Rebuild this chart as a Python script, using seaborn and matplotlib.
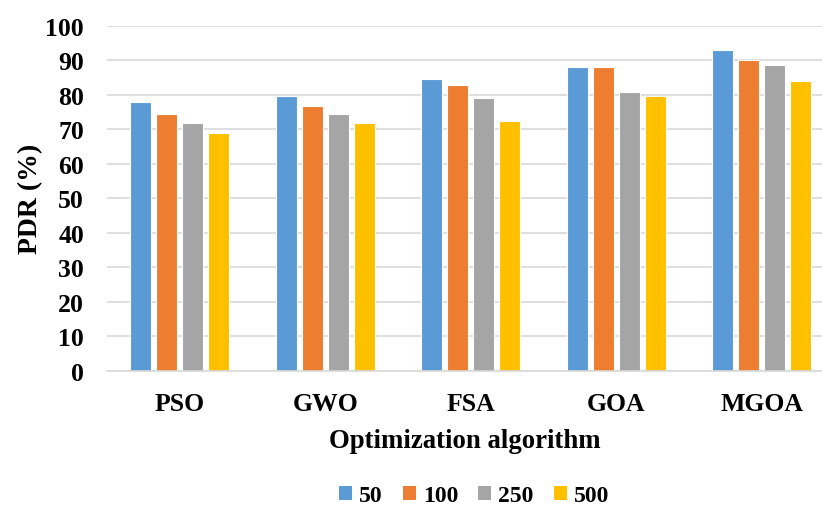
import matplotlib
matplotlib.use("Agg")
import matplotlib.pyplot as plt
import seaborn as sns
import pandas as pd
from matplotlib.patches import Patch

algorithms = ["PSO", "GWO", "FSA", "GOA", "MGOA"]
series_names = ["50", "100", "250", "500"]
vals_50 = [78.0, 79.7, 84.7, 88.0, 93.0]
vals_100 = [74.6, 76.9, 83.0, 88.0, 90.2]
vals_250 = [71.8, 74.6, 79.0, 80.8, 88.6]
vals_500 = [69.0, 71.8, 72.4, 79.7, 84.1]
colors = ["#5B9BD5", "#ED7D31", "#A5A5A5", "#FFC000"]

rows = []
for name, vals in zip(series_names, [vals_50, vals_100, vals_250, vals_500]):
    for a, v in zip(algorithms, vals):
        rows.append({"alg": a, "series": name, "PDR": v})
df = pd.DataFrame(rows)

sns.set_theme(style="white")
plt.rcParams["font.family"] = ["Liberation Serif", "DejaVu Serif"]
plt.rcParams["font.weight"] = "bold"
plt.rcParams["text.color"] = "black"

fig = plt.figure(figsize=(8.22, 5.06), dpi=100)
ax = fig.add_axes([107 / 822, 1 - 371.7 / 506, (822 - 107) / 822, (371.7 - 27) / 506])

sns.barplot(data=df, x="alg", y="PDR", hue="series", order=algorithms,
            hue_order=series_names, palette=colors, saturation=1, width=0.715, gap=0.2,
            edgecolor="#FFFFFF", linewidth=0.8, ax=ax, legend=False)

ax.set_ylim(0, 100)
ax.set_xlim(-0.5, -0.5 + 715 / 145.5)
ax.set_yticks(range(0, 101, 10))
ax.yaxis.grid(True, color="#D9D9D9", linewidth=1.2)
ax.set_axisbelow(True)
for s in ["top", "right", "left"]:
    ax.spines[s].set_visible(False)
ax.spines["bottom"].set_color("#D9D9D9")
ax.spines["bottom"].set_linewidth(1.2)
ax.tick_params(axis="both", length=0, labelsize=18.5, colors="black")
ax.tick_params(axis="x", pad=15)
ax.tick_params(axis="y", pad=16.5)
for lab in ax.get_xticklabels() + ax.get_yticklabels():
    lab.set_fontweight("bold")
    lab.set_color("black")

ax.set_xlabel("Optimization algorithm", fontsize=19.3, fontweight="bold", labelpad=10, color="black")
ax.set_ylabel("PDR (%)", fontsize=20, fontweight="bold", labelpad=2, color="black")

handles = [Patch(facecolor=c, edgecolor="none") for c in colors]
fig.legend(handles, series_names, loc="center", bbox_to_anchor=(474 / 822, 1 - 497 / 506),
           ncol=4, frameon=False, handlelength=0.55, handleheight=0.55,
           handletextpad=0.3, columnspacing=0.85, prop={"weight": "bold", "size": 17})

fig.savefig("out.png", dpi=100)
